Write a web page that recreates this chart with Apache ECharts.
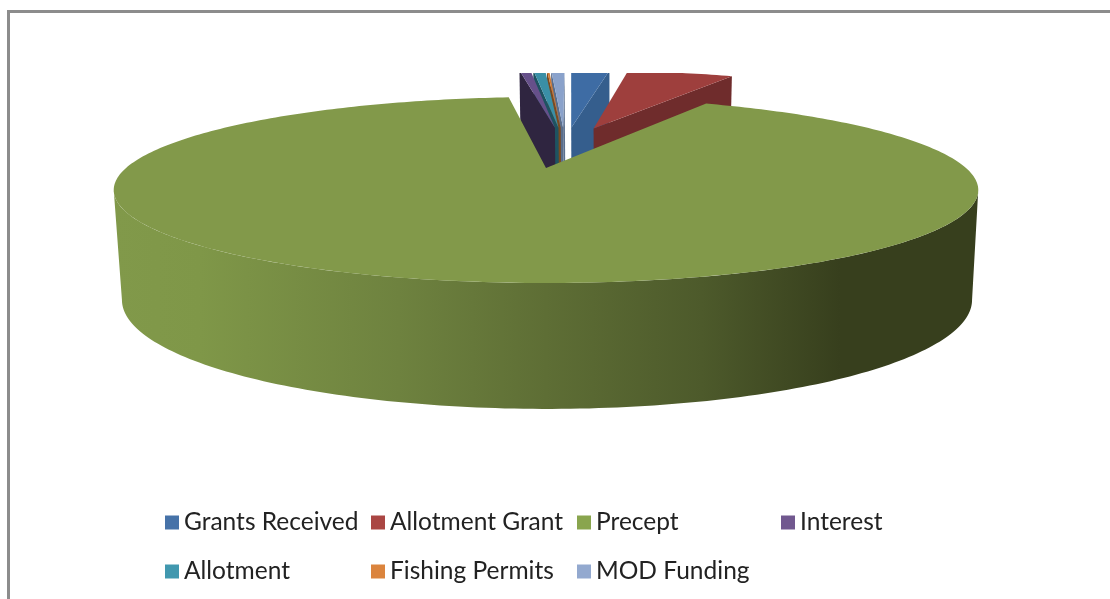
<!DOCTYPE html>
<html>
<head>
<meta charset="utf-8">
<style>html,body{margin:0;padding:0;background:#fff}#chart{width:1110px;height:599px;filter:blur(0.5px)}</style>
<script src="https://cdn.jsdelivr.net/npm/echarts@6/dist/echarts.min.js"></script>
</head>
<body>
<div id="chart"></div>
<script>
const categories = ['Grants Received', 'Allotment Grant', 'Precept', 'Interest', 'Allotment', 'Fishing Permits', 'MOD Funding'];
const shares = [1.97, 5.44, 90.61, 0.56, 0.61, 0.11, 0.69];

const legendColors = ['#4672a8', '#aa4643', '#89a54e', '#71588f', '#4198af', '#db843d', '#93a9cf'];
const topColors = ['#3e6ca4', '#9e3f3d', '#82994a', '#66508a', '#3a8fa6', '#cf7a35', '#8aa2cb'];
const faceColors = ['#355e8d', '#6f2c2c', '#55692f', '#2f2540', '#1e5361', '#7a4a20', '#5a6e8c'];

// back to front, the Precept slice covers the rest
const drawOrder = [6, 5, 4, 3, 0, 1, 2];

// pie layout, the slices sit on two perspective planes (top and bottom of the pie)
const FIRST_ANGLE = 0.8;
const EXPLODE = 0.26;
const PERSP = 0.2366;
const topPlane = { x: 546, y: 168, ax: 420, ay: 87.8 };
const bottomPlane = { x: 547, y: 274, ax: 413, ay: 103 };

const total = shares.reduce((a, b) => a + b, 0);
const startAngles = [];
shares.reduce((acc, v, i) => {
    startAngles[i] = acc;
    return acc + v / total * 360;
}, FIRST_ANGLE);

const rad = (deg) => deg * Math.PI / 180;
const dir = (deg) => [Math.sin(rad(deg)), Math.cos(rad(deg))];

function project(plane, X, Y) {
    const s = 1 / (1 + PERSP * Y);
    return [plane.x + plane.ax * X * s, plane.y - plane.ay * Y * s];
}

const precept = categories.indexOf('Precept');
const middle = (i) => startAngles[i] + shares[i] / total * 180;
const offset = (i) => {
    const d = dir(middle(i));
    const g = dir(middle(precept));
    return [EXPLODE * (d[0] - g[0]), EXPLODE * (d[1] - g[1])];
};

// the wall is only seen between the two points where the rim turns back
const wallFrom = 180 - Math.acos(PERSP) * 180 / Math.PI;
const wallTo = 360 - wallFrom;

function renderSlice(i, api) {
    const a0 = startAngles[i];
    const a1 = a0 + shares[i] / total * 360;
    const o = offset(i);
    const pt = (plane, X, Y) => api.coord(project(plane, X, Y));
    const rim = (plane, from, to) => {
        const pts = [];
        const n = Math.max(2, Math.ceil(to - from));
        for (let k = 0; k <= n; k++) {
            const d = dir(from + (to - from) * k / n);
            pts.push(pt(plane, o[0] + d[0], o[1] + d[1]));
        }
        return pts;
    };
    const topRim = rim(topPlane, a0, a1);
    const bottomRim = rim(bottomPlane, a0, a1);
    const children = [];

    // outer wall
    const w0 = Math.max(a0, wallFrom);
    const w1 = Math.min(a1, wallTo);
    if (w1 > w0) {
        children.push({
            type: 'polygon',
            shape: { points: rim(topPlane, w0, w1).concat(rim(bottomPlane, w0, w1).reverse()) },
            style: {
                fill: new echarts.graphic.LinearGradient(0, 0, 1, 0, [
                    { offset: 0, color: '#81994a' },
                    { offset: 0.1, color: '#7f9748' },
                    { offset: 0.33, color: '#6e823f' },
                    { offset: 0.5, color: '#5e6e35' },
                    { offset: 0.68, color: '#4d5a2b' },
                    { offset: 0.84, color: '#373f1d' },
                    { offset: 1, color: '#373f1d' }
                ])
            }
        });
    }

    // cut faces, only the ones turned to the viewer
    const toCam = [-o[0], -1 / PERSP - o[1]];
    [[a0, -1, 0], [a1, 1, topRim.length - 1]].forEach(([a, sign, idx]) => {
        const nx = sign * Math.cos(rad(a));
        const ny = -sign * Math.sin(rad(a));
        if (nx * toCam[0] + ny * toCam[1] <= 0) return;
        children.push({
            type: 'polygon',
            shape: { points: [pt(topPlane, o[0], o[1]), topRim[idx], bottomRim[idx], pt(bottomPlane, o[0], o[1])] },
            style: { fill: faceColors[i] }
        });
    });

    children.push({
        type: 'polygon',
        shape: { points: [pt(topPlane, o[0], o[1])].concat(topRim) },
        style: { fill: topColors[i] }
    });
    return { type: 'group', children: children };
}

const legendText = { fontFamily: 'Lato', fontSize: 24.5, color: '#222222' };
const legendBase = {
    orient: 'vertical',
    top: 505,
    icon: 'rect',
    itemWidth: 14,
    itemHeight: 14,
    itemGap: 24,
    selectedMode: false,
    textStyle: legendText
};

const chart = echarts.init(document.getElementById('chart'), null, { renderer: 'canvas' });
chart.setOption({
    animation: false,
    backgroundColor: '#ffffff',
    grid: { left: 0, right: 0, top: 73, bottom: 0 },
    xAxis: { type: 'value', min: 0, max: 1110, show: false },
    yAxis: { type: 'value', min: 73, max: 599, inverse: true, show: false },
    legend: [
        Object.assign({}, legendBase, { left: 160, data: ['Grants Received', 'Allotment'] }),
        Object.assign({}, legendBase, { left: 366, data: ['Allotment Grant', 'Fishing Permits'] }),
        Object.assign({}, legendBase, { left: 572, data: ['Precept', 'MOD Funding'] }),
        Object.assign({}, legendBase, { left: 776, data: ['Interest'] })
    ],
    graphic: [{
        type: 'rect',
        silent: true,
        shape: { x: 8.5, y: 11.5, width: 1300, height: 800 },
        style: { fill: 'none', stroke: '#8c8c8c', lineWidth: 3 }
    }],
    series: drawOrder.map((i) => ({
        type: 'custom',
        name: categories[i],
        coordinateSystem: 'cartesian2d',
        clip: true,
        silent: true,
        itemStyle: { color: legendColors[i] },
        data: [[shares[i]]],
        encode: { x: 0 },
        renderItem: (params, api) => renderSlice(i, api)
    }))
});
</script>
</body>
</html>
